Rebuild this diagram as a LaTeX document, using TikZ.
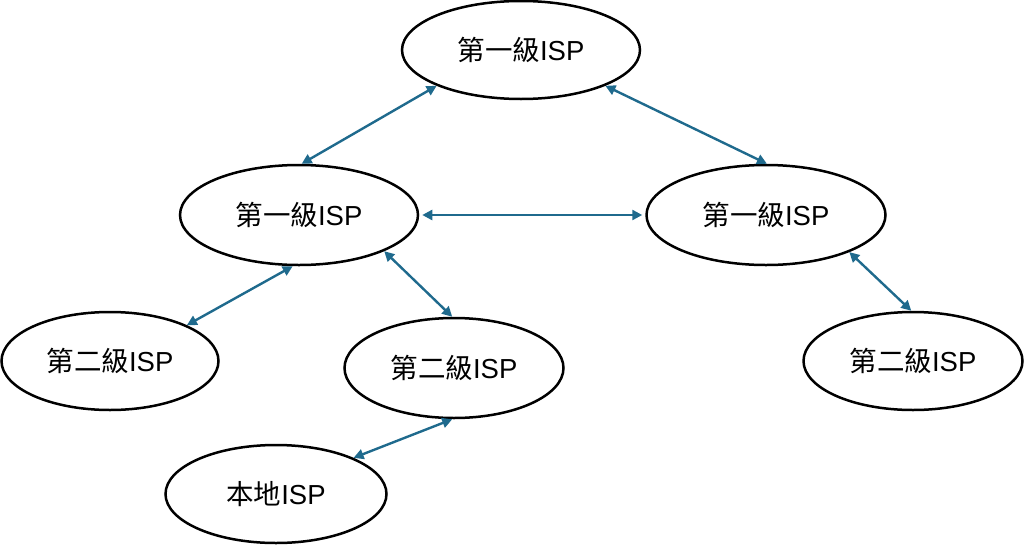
\documentclass[tikz,border=0pt]{standalone}
\usepackage{fontspec}
\setmainfont{Liberation Sans}
\newfontfamily\cjk{Noto Sans CJK TC}
\usetikzlibrary{shapes.geometric,arrows.meta}
\definecolor{arrowblue}{HTML}{1F6A8D}
\tikzset{
  isp/.style={ellipse, draw=black, line width=2.5pt, fill=white, inner sep=0pt, font=\fontsize{27.5}{32}\selectfont},
  link/.style={draw=arrowblue, line width=2.4pt, {Triangle[length=10pt,width=10pt]}-{Triangle[length=10pt,width=10pt]}}
}
\begin{document}
\begin{tikzpicture}[x=1pt,y=-1pt]
\useasboundingbox (0,0) rectangle (1024,546);
\node[isp, minimum width=238pt, minimum height=98pt] (T) at (521,50) {{\cjk 第一級}ISP};
\node[isp, minimum width=238pt, minimum height=100pt] (L) at (299,215) {{\cjk 第一級}ISP};
\node[isp, minimum width=239pt, minimum height=100pt] (R) at (766,215) {{\cjk 第一級}ISP};
\node[isp, minimum width=217pt, minimum height=98pt] (BL) at (110,361) {{\cjk 第二級}ISP};
\node[isp, minimum width=219pt, minimum height=100pt] (BM) at (454,368) {{\cjk 第二級}ISP};
\node[isp, minimum width=219pt, minimum height=98pt] (BR) at (913,361) {{\cjk 第二級}ISP};
\node[isp, minimum width=221pt, minimum height=98pt] (LOC) at (276,494) {{\cjk 本地}ISP};
\draw[link] (T.203) -- (L.87);
\draw[link] (T.337) -- (R.89);
\draw[link] ([xshift=3pt]L.0) -- ([xshift=-3pt]R.180);
\draw[link] (L.263) -- (BL.25);
\draw[link] (L.337) -- (BM.92);
\draw[link] (R.336) -- (BR.92);
\draw[link] (BM.268) -- (LOC.25);
\end{tikzpicture}
\end{document}
